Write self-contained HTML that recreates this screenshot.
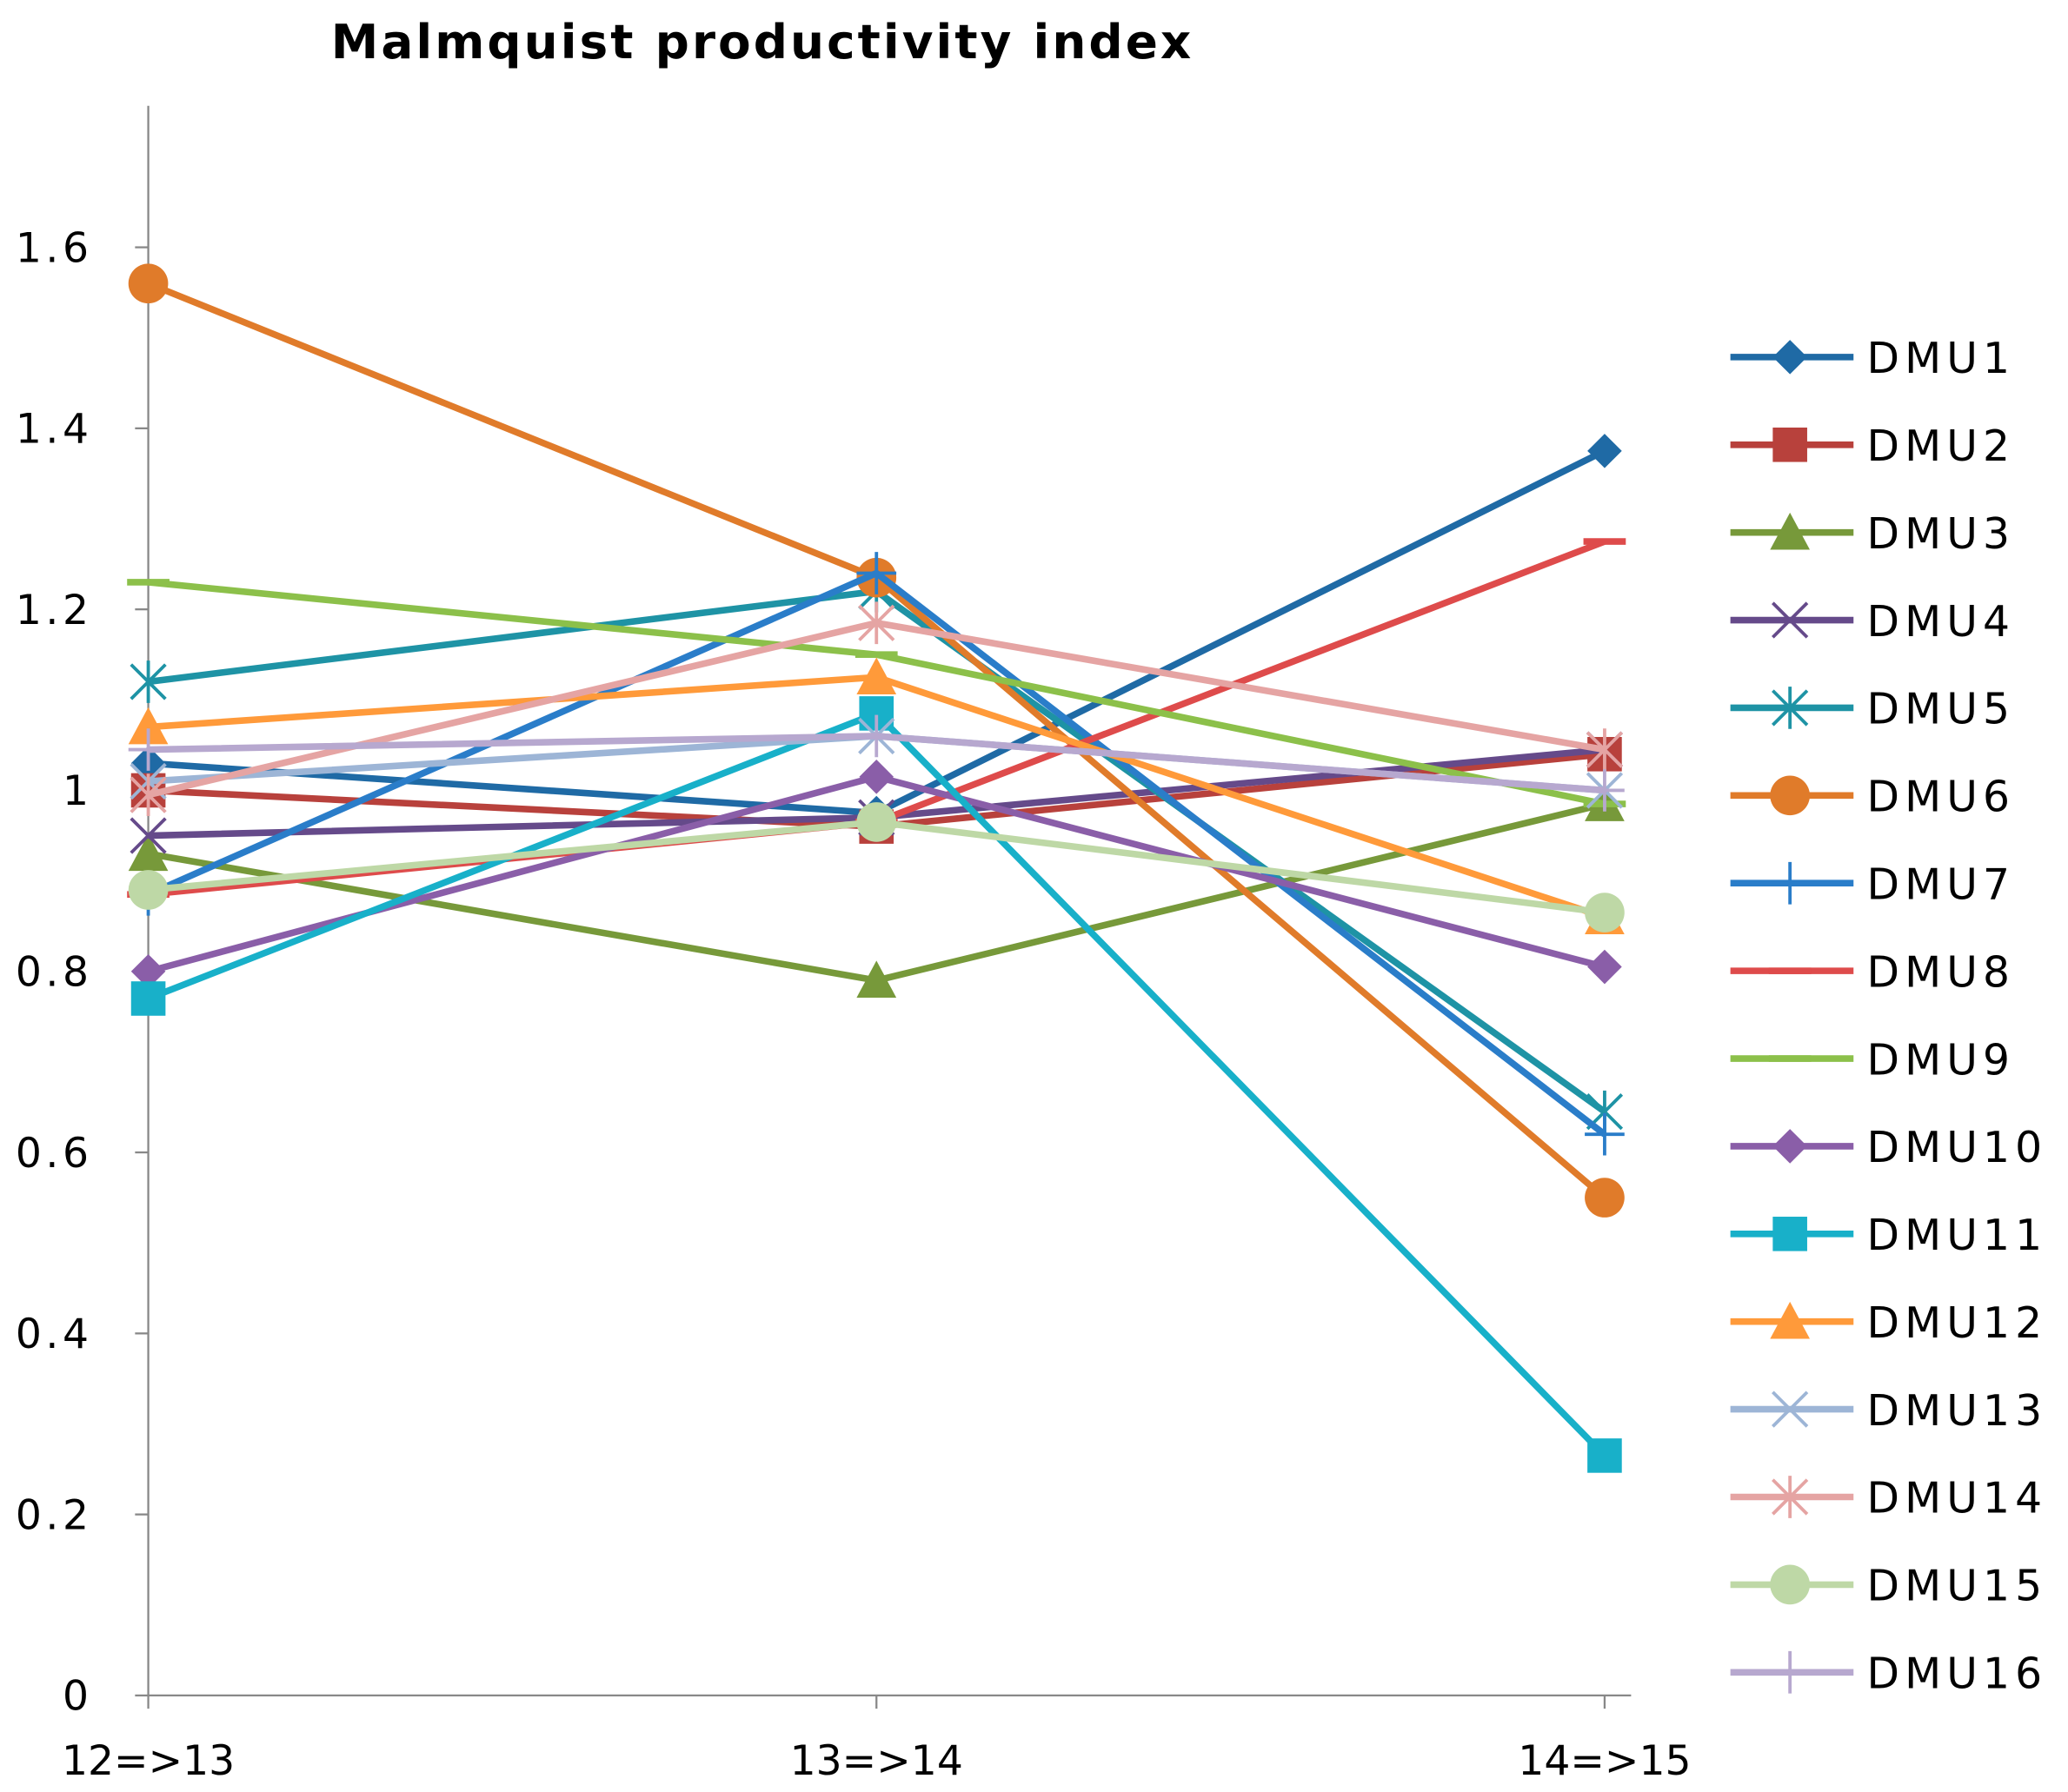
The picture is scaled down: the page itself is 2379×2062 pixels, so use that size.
<!DOCTYPE html>
<html><head><meta charset="utf-8"><style>
html,body{margin:0;padding:0;background:#fff;}
svg{display:block;}
text{font-family:"DejaVu Sans","Liberation Sans",sans-serif;}
</style></head><body>
<svg id="chart" width="2379" height="2062" viewBox="0 0 1562 1355" preserveAspectRatio="none" xmlns="http://www.w3.org/2000/svg">
<text x="250" y="44" font-size="36" font-weight="bold" letter-spacing="2" fill="#000">Malmquist productivity index</text>
<g id="axes"></g><g id="series"></g><g id="legend"></g>
</svg>
<script>
const categories=["12=>13","13=>14","14=>15"];
const yTicks=[0,0.2,0.4,0.6,0.8,1,1.2,1.4,1.6];
const yTickLabels=["0","0.2","0.4","0.6","0.8","1","1.2","1.4","1.6"];
const seriesNames=["DMU1","DMU2","DMU3","DMU4","DMU5","DMU6","DMU7","DMU8","DMU9","DMU10","DMU11","DMU12","DMU13","DMU14","DMU15","DMU16"];
const dmu1=[1.03,0.975,1.375];
const dmu2=[1.0,0.96,1.04];
const dmu3=[0.93,0.79,0.985];
const dmu4=[0.95,0.97,1.045];
const dmu5=[1.12,1.22,0.645];
const dmu6=[1.56,1.235,0.55];
const dmu7=[0.885,1.24,0.62];
const dmu8=[0.885,0.965,1.275];
const dmu9=[1.23,1.15,0.985];
const dmu10=[0.80,1.015,0.805];
const dmu11=[0.77,1.085,0.265];
const dmu12=[1.07,1.125,0.86];
const dmu13=[1.01,1.06,1.0];
const dmu14=[0.995,1.185,1.045];
const dmu15=[0.89,0.965,0.865];
const dmu16=[1.045,1.06,1.0];
const seriesValues=[dmu1,dmu2,dmu3,dmu4,dmu5,dmu6,dmu7,dmu8,dmu9,dmu10,dmu11,dmu12,dmu13,dmu14,dmu15,dmu16];
const colors=["#1F6AA5","#B8413C","#77993A","#654A8A","#1E93A5","#E07B2A","#2A7DC9","#DE4B4B","#8CC04A","#8A5EA8","#18B0C9","#FF9A3A","#9DB5D6","#E5A4A3","#BED8A6","#B7A8CF"];
const markers=["diamond","square","triangle","x","star","circle","plus","dash","dash","diamond","square","triangle","x","star","circle","plus"];
const NS="http://www.w3.org/2000/svg";
const X0=112,XSTEP=550,Y0=1282,YTOP=187,YMAXV=1.6;
function xs(i){return X0+i*XSTEP;}
function ys(v){return Y0-(v/YMAXV)*(Y0-YTOP);}
function mk(tag,attrs,parent){const e=document.createElementNS(NS,tag);for(const k in attrs)e.setAttribute(k,attrs[k]);parent.appendChild(e);return e;}
const axes=document.getElementById('axes');
let a=mk('line',{x1:X0,y1:80,x2:X0,y2:Y0,stroke:'#888','stroke-width':1.5},axes);


a=mk('line',{x1:X0,y1:Y0,x2:X0+2*XSTEP+20,y2:Y0,stroke:'#888','stroke-width':1.5},axes);


yTicks.forEach((v,i)=>{
  mk('line',{x1:X0-10,y1:ys(v),x2:X0,y2:ys(v),stroke:'#888','stroke-width':1.5},axes);
  const t=mk('text',{x:70,y:ys(v)+11,'text-anchor':'end','font-size':31,'letter-spacing':3,fill:'#000'},axes);
  t.textContent=yTickLabels[i];
  
  
});
categories.forEach((c,i)=>{
  mk('line',{x1:xs(i),y1:Y0,x2:xs(i),y2:Y0+10,stroke:'#888','stroke-width':1.5},axes);
  const t=mk('text',{x:xs(i),y:1342,'text-anchor':'middle','font-size':31,fill:'#000'},axes);
  t.textContent=c;
  
  
});
function marker(type,x,y,col,g){
  const s=13;
  if(type==='diamond')mk('polygon',{points:`${x},${y-s} ${x+s},${y} ${x},${y+s} ${x-s},${y}`,fill:col},g);
  else if(type==='square')mk('rect',{x:x-s,y:y-s,width:2*s,height:2*s,fill:col},g);
  else if(type==='triangle')mk('polygon',{points:`${x},${y-s-2} ${x+s+2},${y+s} ${x-s-2},${y+s}`,fill:col},g);
  else if(type==='circle')mk('circle',{cx:x,cy:y,r:s+2,fill:col},g);
  else if(type==='x'){mk('path',{d:`M${x-s},${y-s}L${x+s},${y+s}M${x-s},${y+s}L${x+s},${y-s}`,stroke:col,'stroke-width':2.5},g);}
  else if(type==='star'){mk('path',{d:`M${x-s},${y-s}L${x+s},${y+s}M${x-s},${y+s}L${x+s},${y-s}M${x},${y-s-3}L${x},${y+s+3}`,stroke:col,'stroke-width':2.5},g);}
  else if(type==='plus'){mk('path',{d:`M${x-s-2},${y}L${x+s+2},${y}M${x},${y-s-3}L${x},${y+s+3}`,stroke:col,'stroke-width':2.5},g);}
  else if(type==='dash'){mk('line',{x1:x-16,y1:y,x2:x+16,y2:y,stroke:col,'stroke-width':5},g);}
}
const sg=document.getElementById('series');
seriesValues.forEach((vals,si)=>{
  const g=mk('g',{},sg);
  
  
  const pts=vals.map((v,i)=>xs(i)+','+ys(v)).join(' ');
  mk('polyline',{points:pts,fill:'none',stroke:colors[si],'stroke-width':5,'stroke-linejoin':'round'},g);
  vals.forEach((v,i)=>marker(markers[si],xs(i),ys(v),colors[si],g));
});
const lg=document.getElementById('legend');
seriesNames.forEach((n,i)=>{
  const y=270+i*66.3;
  const g=mk('g',{},lg);
  
  
  mk('line',{x1:1307,y1:y,x2:1400,y2:y,stroke:colors[i],'stroke-width':5},g);
  marker(markers[i],1352,y,colors[i],g);
  const t=mk('text',{x:1410,y:y+12,'font-size':32,'letter-spacing':4,fill:'#000'},g);
  t.textContent=n;
});
</script>
</body></html>
